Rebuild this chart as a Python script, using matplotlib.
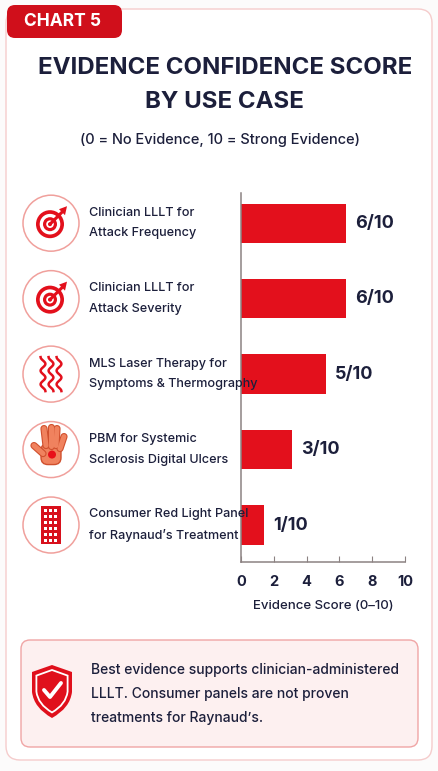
import numpy as np
import matplotlib
matplotlib.use('Agg')
import matplotlib.pyplot as plt
from matplotlib.patches import FancyBboxPatch, Circle, Rectangle, PathPatch
from matplotlib.path import Path
from matplotlib.transforms import blended_transform_factory

plt.rcParams['font.family'] = ['Inter', 'DejaVu Sans']

# data
use_cases = ['Clinician LLLT for\nAttack Frequency',
             'Clinician LLLT for\nAttack Severity',
             'MLS Laser Therapy for\nSymptoms & Thermography',
             'PBM for Systemic\nSclerosis Digital Ulcers',
             'Consumer Red Light Panel\nfor Raynaud\u2019s Treatment']
scores = [6, 6, 5, 3, 1]
bar_lengths = [6.4, 6.4, 5.2, 3.1, 1.4]
icons = ['target', 'target', 'waves', 'hand', 'panel']
x_ticks = [0, 2, 4, 6, 8, 10]

NAVY = '#1c1f3b'
RED = '#e3101c'
AXC = '#8c8282'

W, H = 438, 771
fig = plt.figure(figsize=(W / 100, H / 100), dpi=100)
fig.patch.set_facecolor('#fcfbfb')

# overlay in pixel units (y downwards)
bg = fig.add_axes([0, 0, 1, 1], zorder=0)
bg.set_xlim(0, W)
bg.set_ylim(H, 0)
bg.axis('off')

bg.add_patch(FancyBboxPatch((6, 9), 426, 751, boxstyle='round,pad=0,rounding_size=14',
                            fc='white', ec='#f5cccc', lw=1))
bg.add_patch(FancyBboxPatch((7, 5), 115, 33, boxstyle='round,pad=0,rounding_size=8',
                            fc='#d00f1b', ec='none'))
bg.text(63, 22, 'CHART 5', color='white', fontsize=12.5, fontweight='bold',
        ha='center', va='center')

bg.text(225, 68, 'EVIDENCE CONFIDENCE SCORE', color=NAVY, fontsize=17.3,
        fontweight='bold', ha='center', va='center')
bg.text(224, 102, 'BY USE CASE', color=NAVY, fontsize=17.3,
        fontweight='bold', ha='center', va='center')
bg.text(220, 140, '(0 = No Evidence, 10 = Strong Evidence)', color=NAVY,
        fontsize=10.5, fontweight='medium', ha='center', va='center')

# bar chart
ax = fig.add_axes([241 / W, 1 - 562 / H, 164 / W, 369 / H], zorder=1)
ax.patch.set_visible(False)
pos = np.arange(len(use_cases))
ax.barh(pos, bar_lengths, height=0.52, color=RED)
ax.set_xlim(0, 10)
ax.set_ylim(4.49, -0.4)
ax.set_yticks([])
ax.set_xticks(x_ticks)
for s in ['top', 'right']:
    ax.spines[s].set_visible(False)
for s in ['left', 'bottom']:
    ax.spines[s].set_color(AXC)
    ax.spines[s].set_linewidth(1.1)
ax.tick_params(axis='x', direction='in', length=4, color=AXC, pad=9,
               labelsize=10.5, labelcolor=NAVY)
for t in ax.get_xticklabels():
    t.set_fontweight('bold')
ax.set_xlabel('Evidence Score (0\u201310)', fontsize=9.5, fontweight='medium',
              color=NAVY, labelpad=8)

for i, (b, s) in enumerate(zip(bar_lengths, scores)):
    ax.text(b + 0.55, i, f'{s}/10', fontsize=13, fontweight='bold', color=NAVY,
            va='center', ha='left')

tr = blended_transform_factory(fig.transFigure, ax.transData)
for i, lab in enumerate(use_cases):
    ax.text(89 / W, i, lab, transform=tr, fontsize=9.1, fontweight='medium',
            color=NAVY, va='center', ha='left', linespacing=1.95, clip_on=False)


def ypix(i):
    return H - ax.transData.transform((0, i))[1]


cx = 51
for i, kind in enumerate(icons):
    cy = ypix(i)
    bg.add_patch(Circle((cx, cy), 28, fc='white', ec='#f0a09c', lw=1.1))
    if kind == 'target':
        for r, c in [(14, RED), (10.3, 'white'), (7, RED), (3.8, 'white'), (2, RED)]:
            bg.add_patch(Circle((cx - 1, cy + 1), r, fc=c, ec='none'))
        bg.plot([cx - 1, cx + 11], [cy + 1, cy - 11], color=RED, lw=2.2, solid_capstyle='round')
        bg.add_patch(plt.Polygon([[cx + 8, cy - 14], [cx + 16, cy - 17], [cx + 14, cy - 8],
                                  [cx + 11, cy - 11]], fc=RED, ec='none'))
    elif kind == 'waves':
        t = np.linspace(-17, 17, 60)
        for dx in (-8, 0, 8):
            bg.plot(cx + dx + 2.4 * np.sin(t / 34 * 5 * np.pi), cy + t, color=RED, lw=1.8)
    elif kind == 'hand':
        skin, edge = '#f0825e', '#d0502e'
        fingers = [((cx - 8, cy + 4), (cx - 17, cy - 4)),
                   ((cx - 5, cy - 4), (cx - 7, cy - 21)),
                   ((cx + 0, cy - 4), (cx + 0, cy - 23)),
                   ((cx + 5, cy - 4), (cx + 6, cy - 21)),
                   ((cx + 9, cy - 1), (cx + 13, cy - 13))]
        for (x0, y0), (x1, y1) in fingers:
            bg.plot([x0, x1], [y0, y1], color=edge, lw=5.2, solid_capstyle='round')
        bg.add_patch(FancyBboxPatch((cx - 10, cy - 6), 20, 21,
                                    boxstyle='round,pad=0,rounding_size=7',
                                    fc=skin, ec=edge, lw=1))
        for (x0, y0), (x1, y1) in fingers:
            bg.plot([x0, x1], [y0, y1], color=skin, lw=3.6, solid_capstyle='round')
        bg.add_patch(Circle((cx + 1, cy + 5), 4, fc='#e8101a', ec='none'))
    elif kind == 'panel':
        bg.add_patch(Rectangle((cx - 10, cy - 19), 20, 38, fc='#d8101c', ec='none'))
        for r in range(6):
            for c in range(3):
                bg.add_patch(Rectangle((cx - 7 + c * 5.2, cy - 16 + r * 6), 2.8, 2.8,
                                       fc='white', ec='none'))

# callout box
bg.add_patch(FancyBboxPatch((21, 640), 397, 107, boxstyle='round,pad=0,rounding_size=9',
                            fc='#fdf0f0', ec='#f0a5a5', lw=1))
sx, st, sb = 52, 665, 718
verts = [(sx, st), (sx + 20, st + 7), (sx + 20, st + 27), (sx + 18, sb - 10), (sx, sb),
         (sx, sb), (sx - 18, sb - 10), (sx - 20, st + 27), (sx - 20, st + 7), (sx, st)]
codes = [Path.MOVETO, Path.LINETO, Path.LINETO, Path.CURVE3, Path.CURVE3,
         Path.LINETO, Path.CURVE3, Path.CURVE3, Path.LINETO, Path.CLOSEPOLY]
bg.add_patch(PathPatch(Path(verts, codes), fc='#e0101c', ec='none'))
inner = [(sx + (x - sx) * 0.78, st + 5 + (y - st) * 0.8) for x, y in verts]
bg.add_patch(PathPatch(Path(inner, codes), fc='none', ec='white', lw=1.3))
bg.plot([sx - 8, sx - 2, sx + 9], [690, 697, 683], color='white', lw=2.8,
        solid_capstyle='round', solid_joinstyle='round')

bg.text(91, 694, 'Best evidence supports clinician-administered\n'
        'LLLT. Consumer panels are not proven\ntreatments for Raynaud\u2019s.',
        fontsize=10, fontweight='medium', color=NAVY, va='center', ha='left',
        linespacing=1.95)

fig.savefig('out.png', dpi=100, facecolor=fig.get_facecolor())
